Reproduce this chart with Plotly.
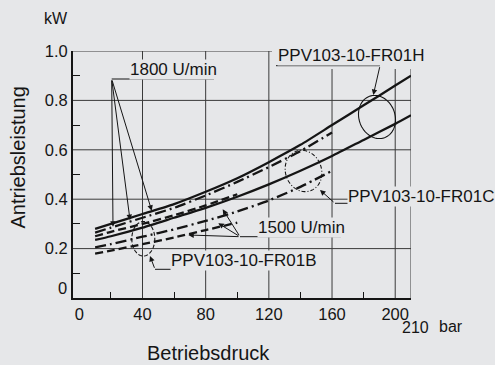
import math
import plotly.graph_objects as go

# ---------------- data ----------------
p_full = [10, 20, 40, 60, 80, 100, 120, 140, 160, 180, 200, 210]
p_c = [10, 20, 40, 60, 80, 100, 120, 140, 160]
p_b = [10, 20, 40, 60, 80, 100]

h_1800 = [0.280, 0.300, 0.340, 0.380, 0.430, 0.485, 0.550, 0.620, 0.700, 0.780, 0.860, 0.900]
c_1800 = [0.265, 0.285, 0.325, 0.365, 0.415, 0.470, 0.530, 0.595, 0.670]
b_1800 = [0.250, 0.268, 0.300, 0.335, 0.375, 0.420]
h_1500 = [0.235, 0.250, 0.285, 0.325, 0.365, 0.410, 0.460, 0.515, 0.575, 0.640, 0.705, 0.740]
c_1500 = [0.205, 0.218, 0.248, 0.278, 0.312, 0.350, 0.395, 0.450, 0.515]
b_1500 = [0.180, 0.192, 0.218, 0.245, 0.275, 0.305]

x_ticks = [0, 40, 80, 120, 160, 200]
x_minor = [20, 60, 100, 140, 180]
y_ticks = [0.2, 0.4, 0.6, 0.8, 1.0]
y_ticktext = ["0.2", "0.4", "0.6", "0.8", "1.0"]
y_minor = [0.1, 0.3, 0.5, 0.7, 0.9]
x_grid = [40, 80, 120, 160, 200, 210]
y_grid = [0.2, 0.4, 0.6, 0.8]

# ---------------- layout geometry ----------------
W, H = 495, 365
L, R, T, B = 73, 411, 51, 298
X_RANGE = [-4, 210]
BG = "#e6e7e9"
INK = "#151515"
GRID = "#3a3a3a"
FONT = "Liberation Sans, Arial, Helvetica, sans-serif"


def pp(px, py):
    """pixel -> paper coords"""
    return (px - L) / (R - L), (B - py) / (B - T)


fig = go.Figure()

solid = dict(color=INK, width=2.3)
dashdot = dict(color=INK, width=2.3, dash="11px,4px,2px,4px")
dashed = dict(color=INK, width=2.3, dash="8px,4px")

for xs, ys, st in [
    (p_full, h_1800, solid), (p_c, c_1800, dashdot), (p_b, b_1800, dashed),
    (p_full, h_1500, solid), (p_c, c_1500, dashdot), (p_b, b_1500, dashed),
]:
    fig.add_trace(go.Scatter(x=xs, y=ys, mode="lines",
                             line=dict(shape="spline", smoothing=0.6, **st),
                             showlegend=False, hoverinfo="skip"))

shapes = []
# grid lines
for gx in x_grid:
    top = 1.0 if gx <= 120 else 0.927
    shapes.append(dict(type="line", xref="x", yref="y", x0=gx, x1=gx, y0=0, y1=top,
                       line=dict(color=GRID, width=1), layer="below"))
for gy in y_grid:
    shapes.append(dict(type="line", xref="x", yref="y", x0=X_RANGE[0], x1=210, y0=gy, y1=gy,
                       line=dict(color=GRID, width=1), layer="below"))
# partial top border
shapes.append(dict(type="line", xref="x", yref="y", x0=X_RANGE[0], x1=122, y0=1.0, y1=1.0,
                   line=dict(color=GRID, width=1), layer="below"))


def seg(p1, p2, width=1):
    a = pp(*p1)
    b = pp(*p2)
    shapes.append(dict(type="line", xref="paper", yref="paper", x0=a[0], y0=a[1], x1=b[0], y1=b[1],
                       line=dict(color=INK, width=width)))


def ellipse(cx, cy, a, b, theta_deg, dash):
    th = math.radians(theta_deg)
    pts = []
    for i in range(73):
        ph = 2 * math.pi * i / 72
        ex, ey = a * math.cos(ph), b * math.sin(ph)
        px = cx + ex * math.cos(th) - ey * math.sin(th)
        py = cy + ex * math.sin(th) + ey * math.cos(th)
        pts.append(pp(px, py))
    path = "M " + " L ".join(f"{u:.5f},{v:.5f}" for u, v in pts) + " Z"
    shapes.append(dict(type="path", xref="paper", yref="paper", path=path,
                       line=dict(color=INK, width=1.1, dash=dash)))


ellipse(377, 117, 18, 22, -20, "solid")
ellipse(303.5, 171, 18, 21, -20, "4px,2px,1px,2px")
ellipse(143.3, 238.8, 11.5, 17.2, 0, "4px,2px")

# underlines
seg((111.7, 79), (214, 79))          # 1800
seg((240, 236.7), (341, 236.7))      # 1500
seg((276, 65.7), (380, 65.7))        # H
seg((335, 203.3), (440, 203.3))      # C
seg((155, 269.3), (263, 269.3))      # B

annotations = []


def arrow(tail, tip):
    x, y = pp(*tip)
    annotations.append(dict(xref="paper", yref="paper", x=x, y=y, text="",
                            showarrow=True, arrowhead=2, arrowsize=1.1, arrowwidth=1,
                            arrowcolor=INK, ax=tail[0] - tip[0], ay=tail[1] - tip[1],
                            standoff=0, startstandoff=0))


for tip in [(113, 226.7), (130, 220), (151.7, 210.7)]:
    arrow((111.7, 79), tip)
for tip in [(222.7, 209.3), (218.3, 223.3), (188.3, 235)]:
    arrow((240, 236.7), tip)
arrow((380, 65.7), (373.3, 95))
arrow((335, 203.3), (320, 190))
arrow((155, 269.3), (150, 256))


def text(t, px, py, size, xanchor="center", bg=None, angle=0):
    x, y = pp(px, py)
    d = dict(xref="paper", yref="paper", x=x, y=y, text=t, showarrow=False,
             xanchor=xanchor, yanchor="middle", textangle=angle,
             font=dict(family=FONT, size=size, color=INK), borderpad=0)
    if bg:
        d["bgcolor"] = bg
    annotations.append(d)


text("1800 U/min", 173.5, 69, 17, bg=BG)
text("1500 U/min", 301, 227.3, 17, bg=BG)
text("PPV103-10-FR01H", 277, 56, 17, xanchor="left", bg=BG)
text("PPV103-10-FR01C", 347, 196, 17, xanchor="left", bg=BG)
text("PPV103-10-FR01B", 170, 260.7, 17, xanchor="left", bg=BG)
text("210", 415, 327, 16)
text("bar", 451, 326, 16)
text("kW", 55.5, 18.5, 16)
text("0", 62, 288, 16.5)
text("Antriebsleistung", 17.5, 158, 20, angle=-90)
text("Betriebsdruck", 208, 352.5, 20)

fig.update_layout(
    width=W, height=H,
    margin=dict(l=L, r=W - R, t=T, b=H - B, pad=0),
    paper_bgcolor=BG, plot_bgcolor=BG,
    font=dict(family=FONT, color=INK),
    shapes=shapes, annotations=annotations,
    showlegend=False,
)
fig.update_xaxes(range=X_RANGE, tickvals=x_ticks, ticktext=[str(v) for v in x_ticks],
                 showgrid=False, zeroline=False, showline=True, linecolor=INK, linewidth=2,
                 ticks="", tickfont=dict(size=16.5, color=INK, family=FONT),
                 minor=dict(tickvals=x_minor, ticks="inside", ticklen=6, tickcolor=INK, tickwidth=1))
fig.update_yaxes(range=[0, 1.0], tickvals=y_ticks, ticktext=y_ticktext,
                 showgrid=False, zeroline=False, showline=True, linecolor=INK, linewidth=2,
                 ticks="", tickfont=dict(size=16.5, color=INK, family=FONT),
                 minor=dict(tickvals=y_minor, ticks="inside", ticklen=7, tickcolor=INK, tickwidth=1))

fig.write_html("out.html")
